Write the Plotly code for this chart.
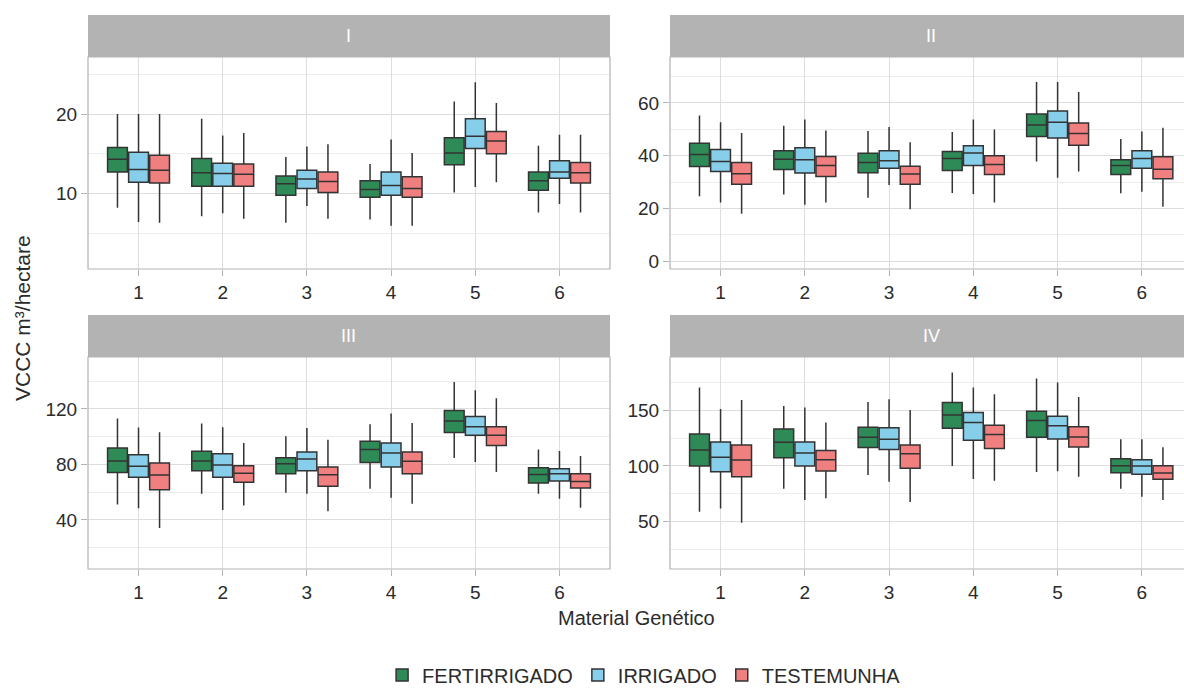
import plotly.graph_objects as go

categories = [1, 2, 3, 4, 5, 6]
tick_labels = ["1", "2", "3", "4", "5", "6"]
treatments = ["FERTIRRIGADO", "IRRIGADO", "TESTEMUNHA"]
panel_names = ["I", "II", "III", "IV"]
colors = ["#2E8B57", "#87CEEB", "#F08080"]

# ---- Panel I ----
I_fert_upper = [20.0, 19.4, 14.6, 13.7, 21.6, 16.0]
I_fert_q3 = [15.8, 14.4, 12.2, 11.6, 17.0, 12.7]
I_fert_med = [14.3, 12.6, 11.2, 10.5, 15.1, 11.6]
I_fert_q1 = [12.7, 10.9, 9.75, 9.5, 13.6, 10.4]
I_fert_lower = [8.2, 7.1, 6.3, 6.7, 10.1, 7.6]
I_irr_upper = [20.0, 17.3, 15.9, 16.8, 24.0, 17.4]
I_irr_q3 = [15.2, 13.8, 12.9, 12.7, 19.4, 14.1]
I_irr_med = [13.0, 12.5, 11.8, 11.0, 17.2, 12.7]
I_irr_q1 = [11.4, 10.9, 10.6, 9.75, 15.65, 11.9]
I_irr_lower = [6.4, 7.5, 8.4, 5.9, 10.8, 8.65]
I_test_upper = [20.0, 17.6, 16.2, 15.1, 21.4, 17.4]
I_test_q3 = [14.8, 13.7, 12.7, 12.1, 17.8, 13.9]
I_test_med = [12.9, 12.4, 11.5, 10.6, 16.6, 12.6]
I_test_q1 = [11.3, 10.9, 10.1, 9.5, 15.0, 11.3]
I_test_lower = [6.3, 6.8, 6.8, 5.9, 11.4, 7.6]

# ---- Panel II ----
II_fert_upper = [55.2, 51.4, 49.4, 49.0, 67.9, 46.3]
II_fert_q3 = [44.7, 41.9, 40.9, 41.6, 55.8, 38.5]
II_fert_med = [40.5, 38.7, 37.4, 39.0, 51.6, 36.3]
II_fert_q1 = [35.9, 34.8, 33.6, 34.4, 47.3, 32.9]
II_fert_lower = [24.7, 25.3, 24.1, 25.9, 37.8, 25.8]
II_irr_upper = [52.7, 53.7, 50.9, 53.7, 67.9, 49.2]
II_irr_q3 = [42.4, 43.0, 41.9, 43.8, 56.9, 41.9]
II_irr_med = [37.8, 38.5, 38.1, 41.0, 52.7, 39.0]
II_irr_q1 = [34.0, 33.5, 35.3, 36.3, 46.7, 35.3]
II_irr_lower = [22.3, 21.4, 28.9, 25.5, 31.7, 26.4]
II_test_upper = [48.6, 49.6, 45.1, 49.9, 64.1, 50.6]
II_test_q3 = [37.4, 39.7, 36.0, 40.0, 52.4, 39.6]
II_test_med = [33.2, 36.3, 33.1, 36.7, 48.4, 34.9]
II_test_q1 = [29.2, 32.1, 29.2, 32.9, 44.0, 31.3]
II_test_lower = [18.0, 22.3, 19.7, 22.3, 34.0, 20.7]

# ---- Panel III ----
III_fert_upper = [113.0, 109.4, 100.2, 108.9, 139.3, 90.8]
III_fert_q3 = [91.8, 89.4, 84.8, 96.6, 118.8, 77.6]
III_fert_med = [82.4, 82.4, 80.5, 90.8, 111.3, 72.8]
III_fert_q1 = [74.2, 75.4, 73.3, 81.4, 102.9, 66.5]
III_fert_lower = [51.1, 58.8, 59.5, 62.4, 84.6, 58.8]
III_irr_upper = [106.5, 106.7, 106.3, 116.6, 133.5, 89.6]
III_irr_q3 = [87.0, 87.7, 88.9, 95.4, 114.5, 76.9]
III_irr_med = [78.6, 79.5, 83.9, 88.2, 107.2, 73.3]
III_irr_q1 = [70.8, 70.8, 75.4, 78.1, 101.0, 68.0]
III_irr_lower = [48.4, 47.2, 58.8, 55.9, 81.7, 55.2]
III_test_upper = [103.1, 95.4, 97.8, 109.9, 127.7, 86.0]
III_test_q3 = [81.0, 79.0, 78.1, 88.9, 107.2, 73.3]
III_test_med = [72.3, 73.7, 72.5, 82.2, 101.0, 67.7]
III_test_q1 = [61.7, 67.2, 64.3, 73.3, 93.7, 62.9]
III_test_lower = [34.2, 50.4, 46.3, 51.6, 74.5, 48.7]

# ---- Panel IV ----
IV_fert_upper = [170.8, 154.2, 157.8, 184.3, 178.9, 124.1]
IV_fert_q3 = [128.9, 133.4, 134.9, 157.2, 149.4, 106.6]
IV_fert_med = [114.5, 121.4, 125.9, 146.1, 141.0, 100.3]
IV_fert_q1 = [100.0, 107.5, 116.6, 134.0, 125.9, 94.0]
IV_fert_lower = [58.7, 79.5, 91.9, 100.0, 94.6, 79.5]
IV_irr_upper = [151.5, 152.7, 160.2, 170.8, 175.3, 124.1]
IV_irr_q3 = [121.7, 121.7, 134.6, 148.2, 144.9, 105.7]
IV_irr_med = [107.8, 111.7, 124.1, 139.2, 136.4, 100.0]
IV_irr_q1 = [94.9, 100.0, 114.8, 123.2, 124.4, 92.5]
IV_irr_lower = [61.7, 69.3, 85.8, 88.3, 95.2, 72.3]
IV_test_upper = [159.6, 139.2, 150.6, 164.8, 162.3, 116.9]
IV_test_q3 = [119.0, 113.9, 119.0, 136.7, 135.5, 100.3]
IV_test_med = [105.4, 105.7, 111.1, 128.3, 126.2, 93.7]
IV_test_q1 = [90.4, 95.5, 97.9, 115.7, 117.2, 88.0]
IV_test_lower = [48.8, 70.8, 67.5, 86.7, 90.4, 69.3]

panel_stats = [
    [(I_fert_lower, I_fert_q1, I_fert_med, I_fert_q3, I_fert_upper),
     (I_irr_lower, I_irr_q1, I_irr_med, I_irr_q3, I_irr_upper),
     (I_test_lower, I_test_q1, I_test_med, I_test_q3, I_test_upper)],
    [(II_fert_lower, II_fert_q1, II_fert_med, II_fert_q3, II_fert_upper),
     (II_irr_lower, II_irr_q1, II_irr_med, II_irr_q3, II_irr_upper),
     (II_test_lower, II_test_q1, II_test_med, II_test_q3, II_test_upper)],
    [(III_fert_lower, III_fert_q1, III_fert_med, III_fert_q3, III_fert_upper),
     (III_irr_lower, III_irr_q1, III_irr_med, III_irr_q3, III_irr_upper),
     (III_test_lower, III_test_q1, III_test_med, III_test_q3, III_test_upper)],
    [(IV_fert_lower, IV_fert_q1, IV_fert_med, IV_fert_q3, IV_fert_upper),
     (IV_irr_lower, IV_irr_q1, IV_irr_med, IV_irr_q3, IV_irr_upper),
     (IV_test_lower, IV_test_q1, IV_test_med, IV_test_q3, IV_test_upper)],
]

W, H = 1184, 689
FONT = "Liberation Sans, Arial, sans-serif"
GRID = "#DEDEDE"
MINOR = "#EDEDED"
BORDER = "#B3B3B3"
TXT = "#2B2B2B"

# panel geometry (pixels)
col_x = [(88, 610), (670, 1184)]
row_y = [(57, 269), (357, 569)]
strip_h = 42
x_ranges = [[0.4, 6.6], [0.4, 6.5], [0.4, 6.6], [0.4, 6.5]]
y_ranges = [[0.46, 27.2], [-2.9, 77.4], [4.6, 157.4], [7.1, 198.3]]
y_dticks = [10, 20, 40, 50]

fig = go.Figure()
layout = dict(
    width=W, height=H,
    margin=dict(l=0, r=0, t=0, b=0, autoexpand=False),
    paper_bgcolor="white", plot_bgcolor="white",
    font=dict(family=FONT, color=TXT),
    boxmode="group", boxgap=0.25, boxgroupgap=0.06,
    showlegend=True,
    legend=dict(orientation="h", x=0.544, xanchor="center", y=1 - 675 / H,
                yanchor="middle", font=dict(size=20, color=TXT),
                itemwidth=30, tracegroupgap=0),
    shapes=[], annotations=[],
)

for p in range(4):
    r, c = divmod(p, 2)
    x0, x1 = col_x[c]
    ytop, ybot = row_y[r]
    sfx = "" if p == 0 else str(p + 1)
    for t in range(3):
        lo, q1, med, q3, up = panel_stats[p][t]
        fig.add_trace(go.Box(
            x=categories, lowerfence=lo, q1=q1, median=med, q3=q3, upperfence=up,
            name=treatments[t], legendgroup=treatments[t], showlegend=(p == 0),
            offsetgroup=treatments[t], alignmentgroup="panel" + str(p),
            fillcolor=colors[t], line=dict(color="#333333", width=1.5),
            whiskerwidth=0, boxpoints=False, hoverinfo="skip",
            xaxis="x" + sfx, yaxis="y" + sfx,
        ))
    layout["xaxis" + sfx] = dict(
        domain=[x0 / W, min(x1 / W, 1.0)], range=x_ranges[p], anchor="y" + sfx,
        tickvals=categories, ticktext=tick_labels, ticks="outside", ticklen=6,
        tickcolor=BORDER, tickwidth=1, showgrid=True, gridcolor=GRID, gridwidth=1.2,
        zeroline=False, showline=False, tickfont=dict(size=19, color=TXT),
        automargin=False,
    )
    layout["yaxis" + sfx] = dict(
        domain=[1 - ybot / H, 1 - ytop / H], range=y_ranges[p], anchor="x" + sfx,
        tick0=0, dtick=y_dticks[p], ticks="outside", ticklen=6, tickcolor=BORDER,
        tickwidth=1, showgrid=True, gridcolor=GRID, gridwidth=1.2, zeroline=False,
        showline=False, tickfont=dict(size=19, color=TXT), automargin=False,
        minor=dict(dtick=y_dticks[p] / 2, tick0=0, showgrid=True,
                   gridcolor=MINOR, gridwidth=1, ticks=""),
    )
    xr = x1 if x1 < W else W + 10
    # panel border
    layout["shapes"].append(dict(type="rect", xref="paper", yref="paper",
                                 x0=x0 / W, x1=xr / W, y0=1 - ybot / H, y1=1 - ytop / H,
                                 line=dict(color=BORDER, width=1.2), fillcolor="rgba(0,0,0,0)",
                                 layer="above"))
    # strip
    layout["shapes"].append(dict(type="rect", xref="paper", yref="paper",
                                 x0=x0 / W, x1=xr / W, y0=1 - ytop / H,
                                 y1=1 - (ytop - strip_h) / H,
                                 line=dict(width=0), fillcolor="#B3B3B3", layer="above"))
    layout["annotations"].append(dict(text=panel_names[p], xref="paper", yref="paper",
                                      x=((x0 + x1) / 2) / W if c == 0 else ((x0 + 1192) / 2) / W,
                                      y=1 - (ytop - strip_h / 2) / H,
                                      showarrow=False, font=dict(size=18, color="white"),
                                      xanchor="center", yanchor="middle"))

layout["annotations"].append(dict(text="Material Genético", xref="paper", yref="paper",
                                  x=636 / W, y=1 - 618 / H, showarrow=False,
                                  font=dict(size=20, color=TXT), xanchor="center", yanchor="middle"))
layout["annotations"].append(dict(text="VCCC m³/hectare", xref="paper", yref="paper",
                                  x=22 / W, y=1 - 318 / H, showarrow=False, textangle=-90,
                                  font=dict(size=21, color=TXT), xanchor="center", yanchor="middle"))

fig.update_layout(**layout)
fig.write_html("out.html", config={"displayModeBar": False},
               post_script="document.body.style.margin='0';document.body.style.padding='0';document.body.style.overflow='hidden';")
